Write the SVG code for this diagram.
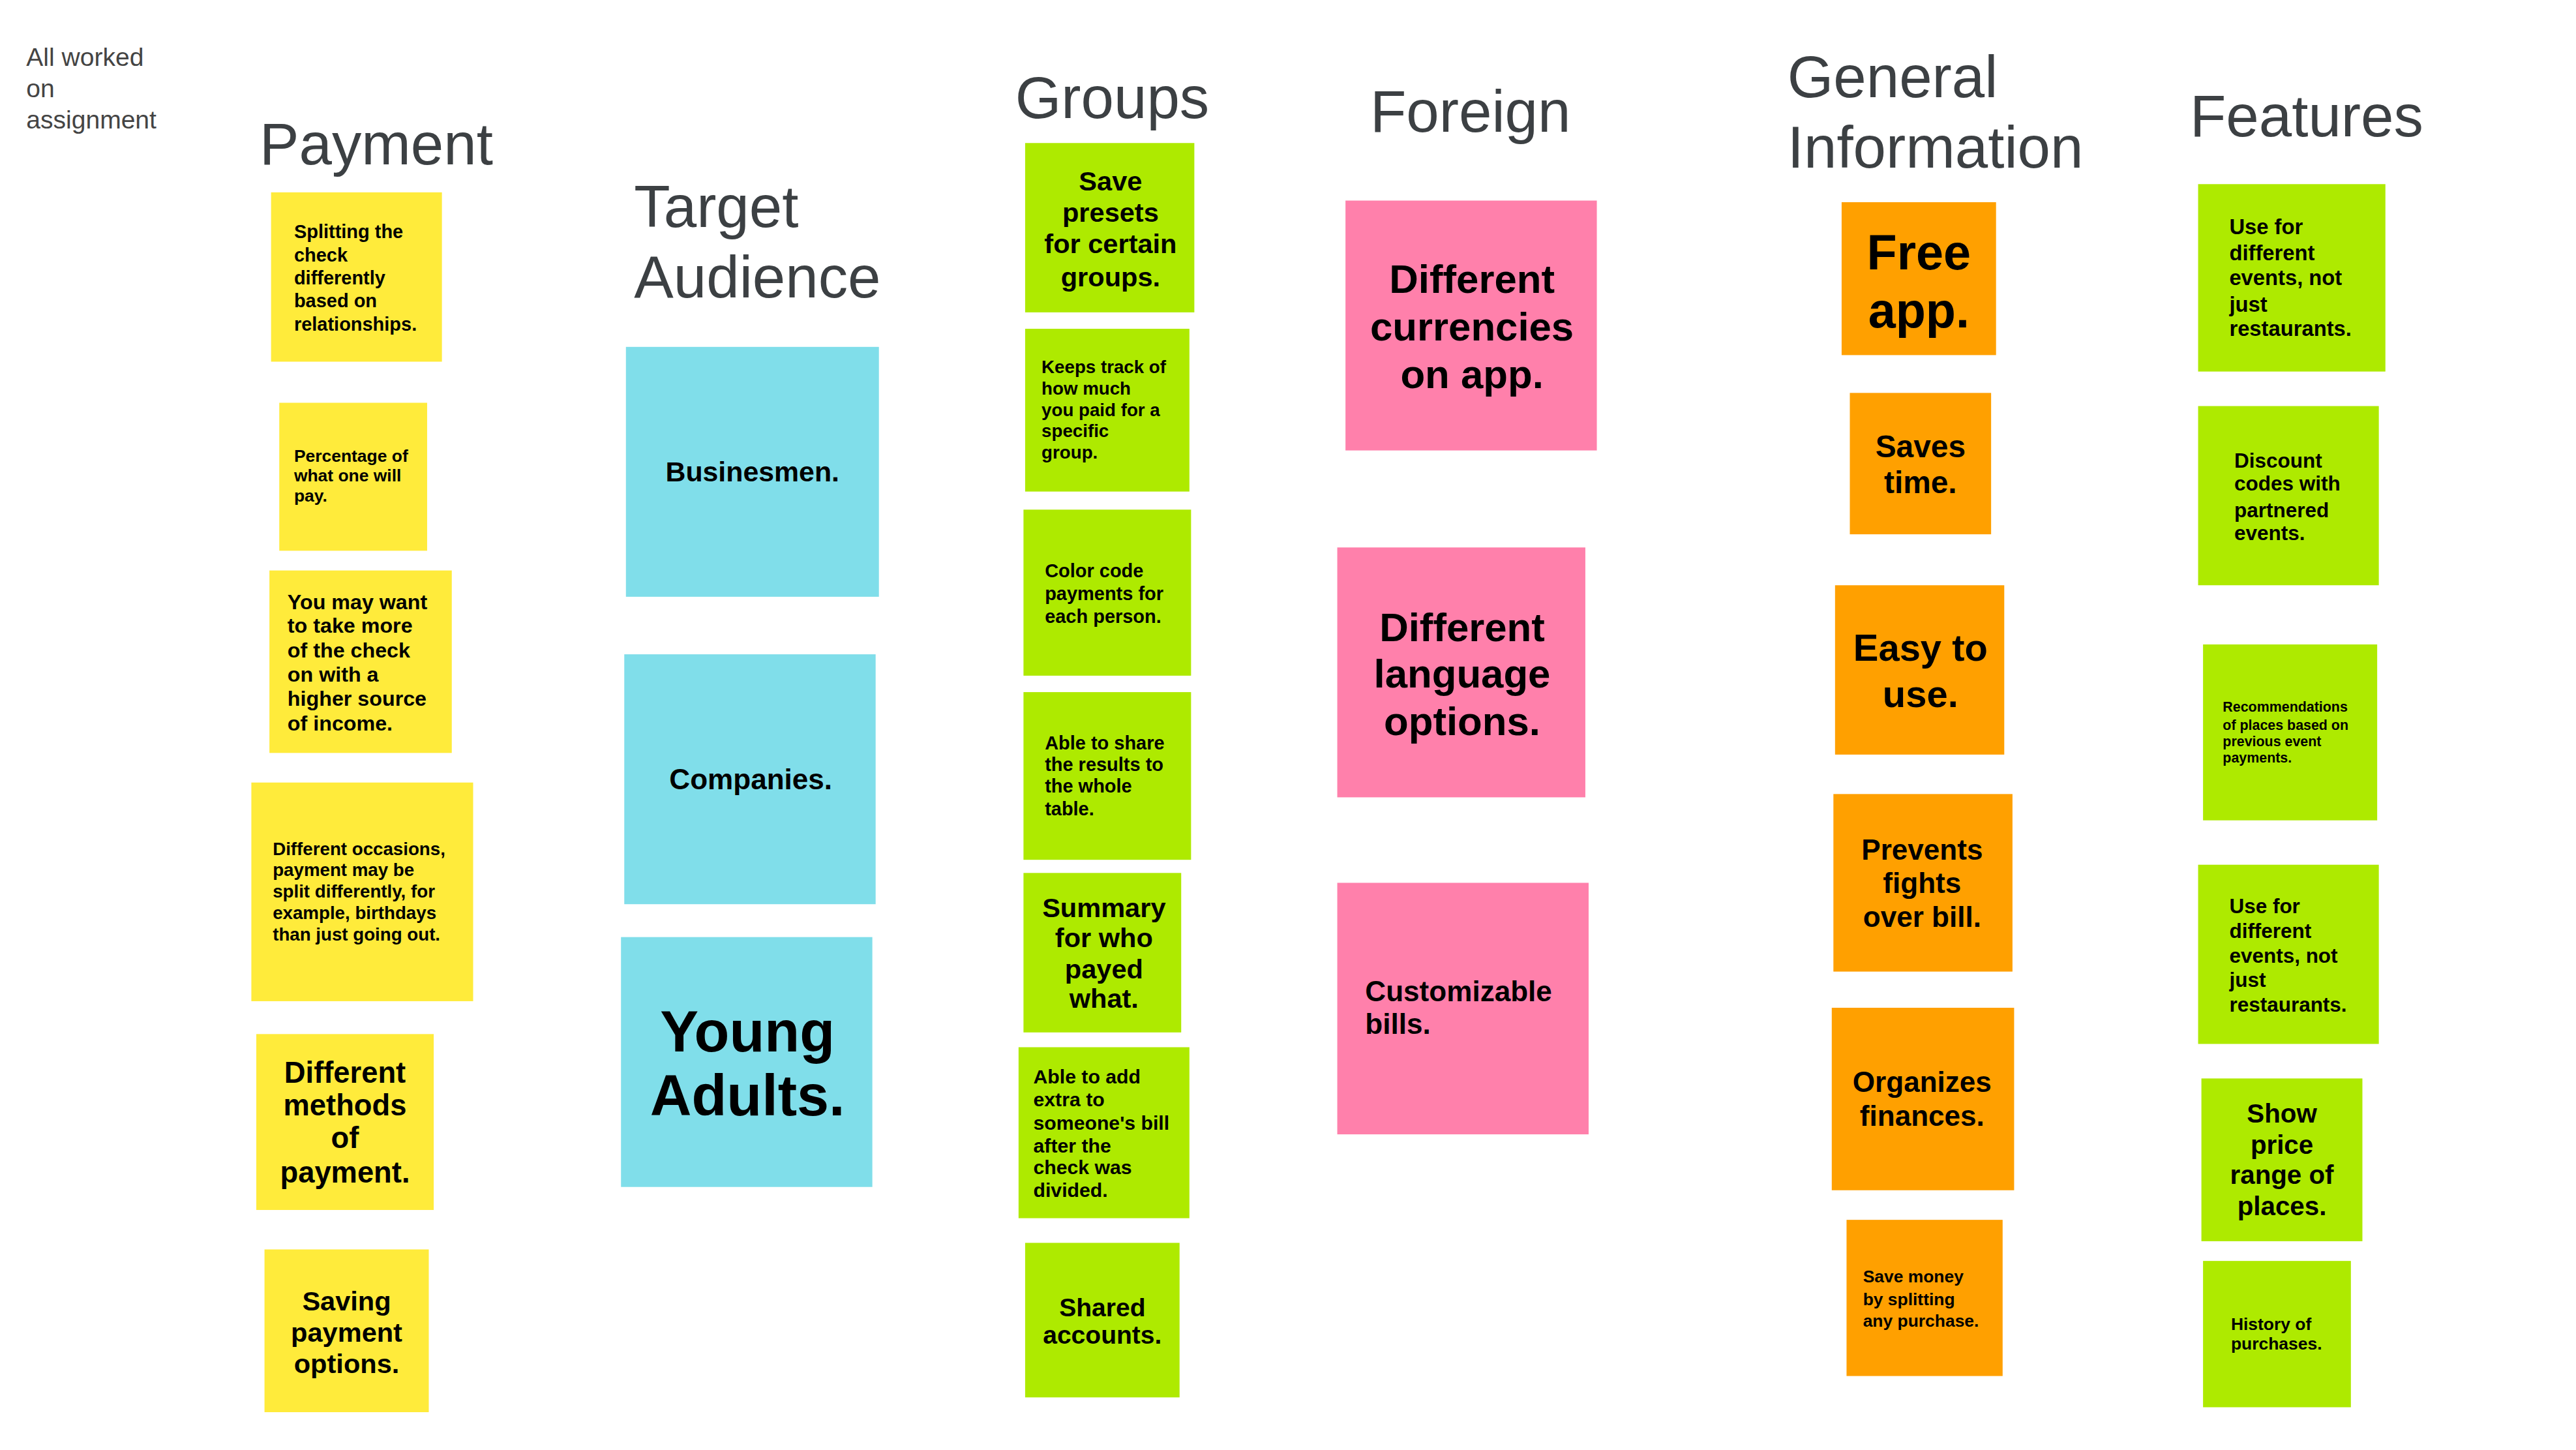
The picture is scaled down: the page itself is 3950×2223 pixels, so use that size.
<svg xmlns="http://www.w3.org/2000/svg" width="3950" height="2223" viewBox="0 0 3950 2223">
<style>
.t{font-family:"Liberation Sans",Arial,sans-serif;fill:#3c4043;font-size:36px}
.s{font-family:"Liberation Sans",Arial,sans-serif;fill:#444;font-size:15.5px}
.n{font-family:"Liberation Sans",Arial,sans-serif;font-weight:bold;fill:#000}
.m{text-anchor:middle}
.y{fill:#ffeb3b}.c{fill:#80deea}.g{fill:#aeea00}.p{fill:#ff80ab}.o{fill:#ffa000}
</style>
<rect width="3950" height="2223" fill="#fff"/>
<g transform="scale(2.5191,2.5204)">
<g id="titles">
<text class="s" x="16"><tspan x="16" y="40">All worked</tspan><tspan x="16" y="59">on</tspan><tspan x="16" y="78">assignment</tspan></text>
<text class="t" x="158" y="100">Payment</text>
<text class="t"><tspan x="386" y="138">Target</tspan><tspan x="386" y="181">Audience</tspan></text>
<text class="t" x="618" y="72">Groups</text>
<text class="t" x="834" y="80">Foreign</text>
<text class="t"><tspan x="1088" y="59">General</tspan><tspan x="1088" y="102">Information</tspan></text>
<text class="t" x="1333" y="83">Features</text>
</g>
<g id="pay1"><rect class="y" x="165" y="117" width="104" height="103"/><text class="n" style="font-size:11.5px"><tspan x="179" y="145">Splitting the</tspan><tspan x="179" y="159">check</tspan><tspan x="179" y="173">differently</tspan><tspan x="179" y="187">based on</tspan><tspan x="179" y="201">relationships.</tspan></text></g>
<g id="pay2"><rect class="y" x="170" y="245" width="90" height="90"/><text class="n" style="font-size:10.5px"><tspan x="179" y="281">Percentage of</tspan><tspan x="179" y="293">what one will</tspan><tspan x="179" y="305">pay.</tspan></text></g>
<g id="pay3"><rect class="y" x="164" y="347" width="111" height="111"/><text class="n" style="font-size:12.8px"><tspan x="175" y="370.5">You may want</tspan><tspan x="175" y="385">to take more</tspan><tspan x="175" y="400">of the check</tspan><tspan x="175" y="414.5">on with a</tspan><tspan x="175" y="429.5">higher source</tspan><tspan x="175" y="444.5">of income.</tspan></text></g>
<g id="pay4"><rect class="y" x="153" y="476" width="135" height="133"/><text class="n" style="font-size:11px"><tspan x="166" y="520">Different occasions,</tspan><tspan x="166" y="533">payment may be</tspan><tspan x="166" y="546">split differently, for</tspan><tspan x="166" y="559">example, birthdays</tspan><tspan x="166" y="572">than just going out.</tspan></text></g>
<g id="pay5"><rect class="y" x="156" y="629" width="108" height="107"/><text class="n m" style="font-size:18px"><tspan x="210" y="658.5">Different</tspan><tspan x="210" y="678.5">methods</tspan><tspan x="210" y="698.5">of</tspan><tspan x="210" y="719.5">payment.</tspan></text></g>
<g id="pay6"><rect class="y" x="161" y="760" width="100" height="99"/><text class="n m" style="font-size:16.5px"><tspan x="211" y="797">Saving</tspan><tspan x="211" y="816">payment</tspan><tspan x="211" y="835">options.</tspan></text></g>

<g id="ta1"><rect class="c" x="381" y="211" width="154" height="152"/><text class="n m" style="font-size:17px" x="458" y="293">Businesmen.</text></g>
<g id="ta2"><rect class="c" x="380" y="398" width="153" height="152"/><text class="n m" style="font-size:17.5px" x="457" y="480">Companies.</text></g>
<g id="ta3"><rect class="c" x="378" y="570" width="153" height="152"/><text class="n m" style="font-size:35px"><tspan x="455" y="639.5">Young</tspan><tspan x="455" y="678.5">Adults.</tspan></text></g>

<g id="gr1"><rect class="g" x="624" y="87" width="103" height="103"/><text class="n m" style="font-size:16.5px"><tspan x="676" y="116">Save</tspan><tspan x="676" y="135">presets</tspan><tspan x="676" y="154">for certain</tspan><tspan x="676" y="174">groups.</tspan></text></g>
<g id="gr2"><rect class="g" x="624" y="200" width="100" height="99"/><text class="n" style="font-size:11px"><tspan x="634" y="227">Keeps track of</tspan><tspan x="634" y="240">how much</tspan><tspan x="634" y="253">you paid for a</tspan><tspan x="634" y="266">specific</tspan><tspan x="634" y="279">group.</tspan></text></g>
<g id="gr3"><rect class="g" x="623" y="310" width="102" height="101"/><text class="n" style="font-size:11.5px"><tspan x="636" y="351">Color code</tspan><tspan x="636" y="365">payments for</tspan><tspan x="636" y="379">each person.</tspan></text></g>
<g id="gr4"><rect class="g" x="623" y="421" width="102" height="102"/><text class="n" style="font-size:11.5px"><tspan x="636" y="456">Able to share</tspan><tspan x="636" y="469">the results to</tspan><tspan x="636" y="482">the whole</tspan><tspan x="636" y="496">table.</tspan></text></g>
<g id="gr5"><rect class="g" x="623" y="531" width="96" height="97"/><text class="n m" style="font-size:16.5px"><tspan x="672" y="558">Summary</tspan><tspan x="672" y="576">for who</tspan><tspan x="672" y="595">payed</tspan><tspan x="672" y="613">what.</tspan></text></g>
<g id="gr6"><rect class="g" x="620" y="637" width="104" height="104"/><text class="n" style="font-size:12px"><tspan x="629" y="659">Able to add</tspan><tspan x="629" y="673">extra to</tspan><tspan x="629" y="687">someone's bill</tspan><tspan x="629" y="701">after the</tspan><tspan x="629" y="714">check was</tspan><tspan x="629" y="728">divided.</tspan></text></g>
<g id="gr7"><rect class="g" x="624" y="756" width="94" height="94"/><text class="n m" style="font-size:15.5px"><tspan x="671" y="800.5">Shared</tspan><tspan x="671" y="817.5">accounts.</tspan></text></g>

<g id="fo1"><rect class="p" x="819" y="122" width="153" height="152"/><text class="n m" style="font-size:24.5px"><tspan x="896" y="178">Different</tspan><tspan x="896" y="207">currencies</tspan><tspan x="896" y="236">on app.</tspan></text></g>
<g id="fo2"><rect class="p" x="814" y="333" width="151" height="152"/><text class="n m" style="font-size:24.5px"><tspan x="890" y="390">Different</tspan><tspan x="890" y="418">language</tspan><tspan x="890" y="447">options.</tspan></text></g>
<g id="fo3"><rect class="p" x="814" y="537" width="153" height="153"/><text class="n" style="font-size:17.5px"><tspan x="831" y="609">Customizable</tspan><tspan x="831" y="629">bills.</tspan></text></g>

<g id="gi1"><rect class="o" x="1121" y="123" width="94" height="93"/><text class="n m" style="font-size:30px"><tspan x="1168" y="164">Free</tspan><tspan x="1168" y="199">app.</tspan></text></g>
<g id="gi2"><rect class="o" x="1126" y="239" width="86" height="86"/><text class="n m" style="font-size:19px"><tspan x="1169" y="278">Saves</tspan><tspan x="1169" y="300">time.</tspan></text></g>
<g id="gi3"><rect class="o" x="1117" y="356" width="103" height="103"/><text class="n m" style="font-size:23px"><tspan x="1169" y="402">Easy to</tspan><tspan x="1169" y="430">use.</tspan></text></g>
<g id="gi4"><rect class="o" x="1116" y="483" width="109" height="108"/><text class="n m" style="font-size:17.5px"><tspan x="1170" y="523">Prevents</tspan><tspan x="1170" y="543">fights</tspan><tspan x="1170" y="564">over bill.</tspan></text></g>
<g id="gi5"><rect class="o" x="1115" y="613" width="111" height="111"/><text class="n m" style="font-size:17.5px"><tspan x="1170" y="664">Organizes</tspan><tspan x="1170" y="685">finances.</tspan></text></g>
<g id="gi6"><rect class="o" x="1124" y="742" width="95" height="95"/><text class="n" style="font-size:10.5px"><tspan x="1134" y="780">Save money</tspan><tspan x="1134" y="794">by splitting</tspan><tspan x="1134" y="807">any purchase.</tspan></text></g>

<g id="fe1"><rect class="g" x="1338" y="112" width="114" height="114"/><text class="n" style="font-size:13px"><tspan x="1357" y="142.5">Use for</tspan><tspan x="1357" y="158.5">different</tspan><tspan x="1357" y="173.5">events, not</tspan><tspan x="1357" y="189.5">just</tspan><tspan x="1357" y="204.5">restaurants.</tspan></text></g>
<g id="fe2"><rect class="g" x="1338" y="247" width="110" height="109"/><text class="n" style="font-size:12.5px"><tspan x="1360" y="284.5">Discount</tspan><tspan x="1360" y="298.5">codes with</tspan><tspan x="1360" y="314.5">partnered</tspan><tspan x="1360" y="328.5">events.</tspan></text></g>
<g id="fe3"><rect class="g" x="1341" y="392" width="106" height="107"/><text class="n" style="font-size:8.5px"><tspan x="1353" y="433">Recommendations</tspan><tspan x="1353" y="444">of places based on</tspan><tspan x="1353" y="454">previous event</tspan><tspan x="1353" y="464">payments.</tspan></text></g>
<g id="fe4"><rect class="g" x="1338" y="526" width="110" height="109"/><text class="n" style="font-size:12.5px"><tspan x="1357" y="555.5">Use for</tspan><tspan x="1357" y="570.5">different</tspan><tspan x="1357" y="585.5">events, not</tspan><tspan x="1357" y="600.5">just</tspan><tspan x="1357" y="615.5">restaurants.</tspan></text></g>
<g id="fe5"><rect class="g" x="1340" y="656" width="98" height="99"/><text class="n m" style="font-size:16px"><tspan x="1389" y="683">Show</tspan><tspan x="1389" y="702">price</tspan><tspan x="1389" y="720">range of</tspan><tspan x="1389" y="739">places.</tspan></text></g>
<g id="fe6"><rect class="g" x="1341" y="767" width="90" height="89"/><text class="n" style="font-size:10.5px"><tspan x="1358" y="809">History of</tspan><tspan x="1358" y="821">purchases.</tspan></text></g>
<g id="connectors"/>
</g>
</svg>
